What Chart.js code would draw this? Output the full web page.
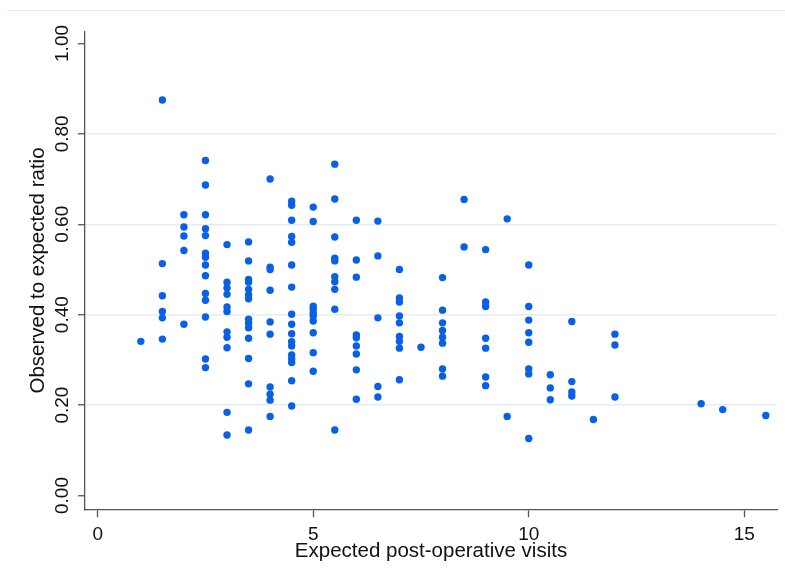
<!DOCTYPE html>
<html>
<head>
<meta charset="utf-8">
<script src="https://cdn.jsdelivr.net/npm/chart.js@4.4.1/dist/chart.umd.min.js"></script>
<style>
  body { margin: 0; background: #fff; }
  #wrap { position: relative; width: 785px; height: 580px; }
  #topline { position: absolute; left: 7px; right: 0; top: 10px; height: 1px; background: #e6eded; }
</style>
</head>
<body>
<div id="wrap">
  <div id="topline"></div>
  <canvas id="chart" width="785" height="580"></canvas>
</div>
<script>
// expected visits (x) and the observed/expected ratios seen at each one
const expectedVisits = [1, 1.5, 2, 2.5, 3, 3.5, 4, 4.5, 5, 5.5, 6, 6.5, 7, 7.5, 8, 8.5, 9, 9.5, 10, 10.5, 11, 11.5, 12, 14, 14.5, 15.5];
const observedRatio = [
  [0.341],
  [0.875, 0.513, 0.442, 0.407, 0.393, 0.346],
  [0.621, 0.594, 0.574, 0.542, 0.379],
  [0.741, 0.687, 0.621, 0.59, 0.575, 0.536, 0.527, 0.51, 0.486, 0.447, 0.432, 0.395, 0.302, 0.283],
  [0.555, 0.472, 0.459, 0.445, 0.417, 0.407, 0.362, 0.35, 0.327, 0.184, 0.134],
  [0.561, 0.519, 0.478, 0.472, 0.456, 0.444, 0.435, 0.39, 0.381, 0.371, 0.348, 0.303, 0.247, 0.145],
  [0.70, 0.505, 0.50, 0.454, 0.384, 0.357, 0.24, 0.224, 0.211, 0.175],
  [0.651, 0.642, 0.609, 0.573, 0.56, 0.51, 0.461, 0.401, 0.379, 0.358, 0.34, 0.331, 0.311, 0.302, 0.294, 0.254, 0.198],
  [0.638, 0.606, 0.419, 0.412, 0.404, 0.397, 0.386, 0.36, 0.316, 0.275],
  [0.733, 0.656, 0.572, 0.525, 0.519, 0.484, 0.473, 0.456, 0.412, 0.145],
  [0.609, 0.521, 0.483, 0.355, 0.349, 0.331, 0.313, 0.278, 0.213],
  [0.607, 0.53, 0.393, 0.241, 0.218],
  [0.50, 0.437, 0.428, 0.397, 0.382, 0.352, 0.341, 0.326, 0.256],
  [0.328],
  [0.482, 0.41, 0.382, 0.365, 0.35, 0.337, 0.28, 0.264],
  [0.655, 0.55],
  [0.544, 0.428, 0.418, 0.348, 0.326, 0.262, 0.243],
  [0.612, 0.175],
  [0.51, 0.418, 0.388, 0.36, 0.339, 0.28, 0.269, 0.126],
  [0.267, 0.238, 0.212],
  [0.385, 0.252, 0.229, 0.22],
  [0.168],
  [0.357, 0.333, 0.218],
  [0.203],
  [0.19],
  [0.177]
];

const xTicks = [0, 5, 10, 15];
const yTicks = [0, 0.2, 0.4, 0.6, 0.8, 1.0];

const points = [];
expectedVisits.forEach((x, i) => {
  observedRatio[i].forEach(y => points.push({ x: x, y: y }));
});

const axisColor = "#555555";
const fontFamily = "'Liberation Sans', Arial, sans-serif";

new Chart(document.getElementById("chart"), {
  type: "scatter",
  data: {
    datasets: [{
      data: points,
      pointRadius: 3.7,
      pointHoverRadius: 3.7,
      pointBorderWidth: 0,
      pointBackgroundColor: "#0860e6"
    }]
  },
  options: {
    responsive: false,
    animation: false,
    layout: { padding: { top: 31.7, right: 8, left: 0, bottom: 0 } },
    plugins: { legend: { display: false }, tooltip: { enabled: false } },
    scales: {
      x: {
        type: "linear",
        min: -0.295,
        max: 15.76,
        afterBuildTicks: s => { s.ticks = xTicks.map(v => ({ value: v })); },
        afterFit: s => { s.height = 70.7; },
        border: { color: axisColor, width: 1.3 },
        grid: { drawOnChartArea: false, tickLength: 8, tickColor: axisColor, tickWidth: 1.3 },
        ticks: {
          color: "#111",
          padding: 5.8,
          font: { family: fontFamily, size: 19 },
          callback: v => String(v)
        },
        title: {
          display: true,
          text: "Expected post-operative visits",
          color: "#111",
          font: { family: fontFamily, size: 20.5 },
          padding: { top: 0, bottom: 16 }
        }
      },
      y: {
        type: "linear",
        min: -0.0305,
        max: 1.026,
        afterBuildTicks: s => { s.ticks = yTicks.map(v => ({ value: v })); },
        afterFit: s => { s.width = 85; },
        border: { color: axisColor, width: 1.3 },
        grid: {
          color: c => (c.tick && c.tick.value > 0.01 && c.tick.value < 0.99) ? "#e6eef0" : "rgba(0,0,0,0)",
          lineWidth: 1.5,
          tickLength: 7,
          tickColor: axisColor,
          tickWidth: 1.3
        },
        ticks: {
          color: "#111",
          minRotation: 90,
          maxRotation: 90,
          crossAlign: "center",
          align: "end",
          padding: -12.8,
          font: { family: fontFamily, size: 19 },
          callback: v => v.toFixed(2)
        },
        title: {
          display: true,
          text: "Observed to expected ratio",
          color: "#111",
          font: { family: fontFamily, size: 20.5 },
          padding: { top: 25.6, bottom: 0 }
        }
      }
    }
  }
});
</script>
</body>
</html>
